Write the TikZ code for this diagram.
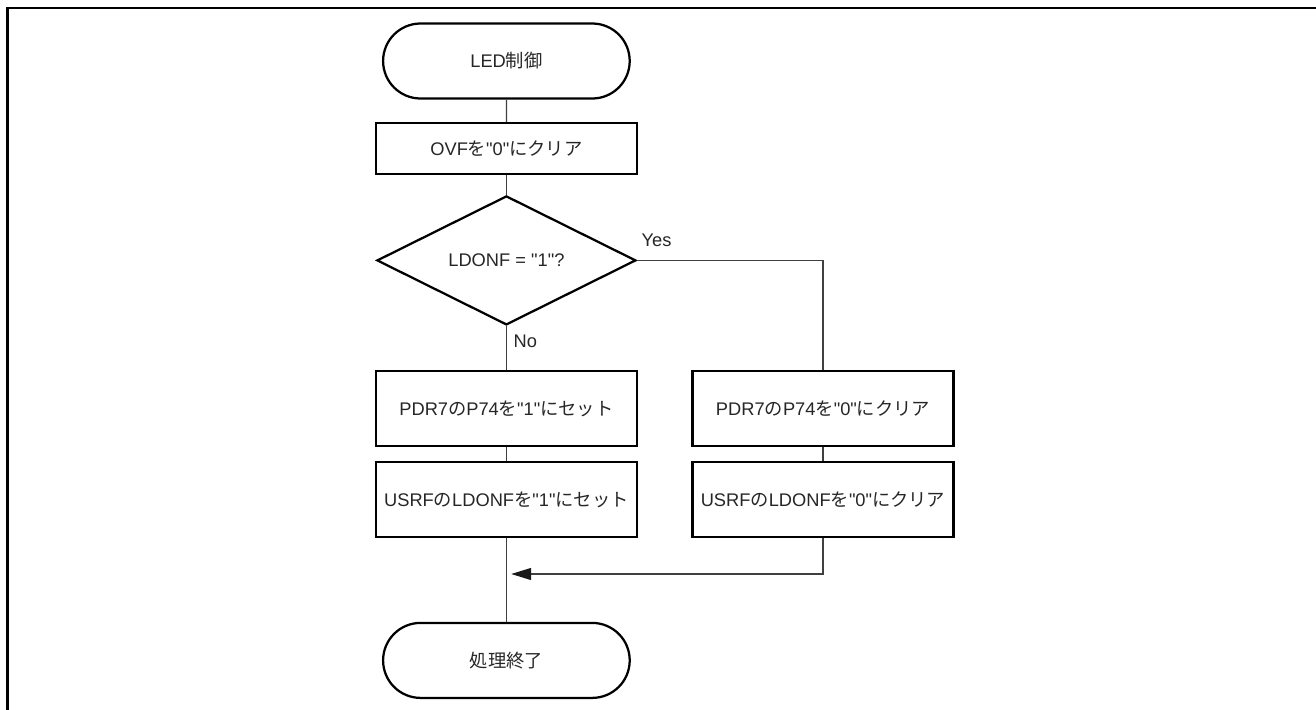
\documentclass[tikz,border=0pt]{standalone}
\usepackage{fontspec}
\newfontfamily\latinfont{Liberation Sans}
\newfontfamily\jpfont{Noto Sans CJK JP}
\usepackage{tikz}
\usetikzlibrary{shapes.geometric, shapes.misc, arrows.meta, positioning}

\newcommand{\ja}[1]{{\jpfont #1}}

\begin{document}
\begin{tikzpicture}[
  every node/.style={font=\latinfont\fontsize{13}{15}\selectfont, text=black!85},
  terminal/.style={draw, rounded rectangle, line width=1.6pt,
                   minimum width=6.4cm, minimum height=1.875cm},
  process/.style={draw, rectangle, line width=1.6pt,
                  minimum width=6.525cm, minimum height=1.875cm},
  decision/.style={draw, diamond, line width=1.6pt, inner sep=0pt,
                   minimum width=6.475cm, minimum height=3.125cm},
  line/.style={draw=black!75, line width=0.9pt},
  arrow/.style={line, -{Triangle[length=0.5cm, width=0.3cm, fill=black!90, color=black!90]}},
  lbl/.style={font=\latinfont\fontsize{13}{15}\selectfont}
]

\useasboundingbox (0,0) rectangle (32.9,-17.75);
\draw[line width=2.1pt] (32.9,-0.2) -- (0.19,-0.2) -- (0.19,-17.75);

\node[terminal] (start) at (12.66,-1.525) {LED\ja{制御}};
\node[process, minimum height=1.275cm] (ovf) at (12.66,-3.71) {OVF\ja{を}"0"\ja{にクリア}};
\node[decision] (dec) at (12.66,-6.51) {LDONF = "1"?};

\node[process] (pdron)  at (12.66,-10.21) {PDR7\ja{の}P74\ja{を}"1"\ja{にセット}};
\node[process] (usrfon) at (12.66,-12.49) {USRF\ja{の}LDONF\ja{を}"1"\ja{にセット}};

\node[process] (pdroff)  at (20.575,-10.21) {PDR7\ja{の}P74\ja{を}"0"\ja{にクリア}};
\node[process] (usrfoff) at (20.575,-12.49) {USRF\ja{の}LDONF\ja{を}"0"\ja{にクリア}};

\coordinate (merge) at (12.66,-14.35);
\node[terminal] (stop) at (12.66,-16.51) {\ja{処理終了}};

\draw[line] (start) -- (ovf);
\draw[line] (ovf) -- (dec);
\draw[line] (dec.south) -- node[lbl, right=0.05cm, pos=0.35]{No} (pdron.north);
\draw[line] (dec.east) -| node[lbl, pos=0, anchor=south west, inner sep=0.1cm, yshift=0.22cm]{Yes} (pdroff.north);

\draw[line] (pdron) -- (usrfon);
\draw[line] (pdroff) -- (usrfoff);

\draw[line] (usrfon.south) -- (stop.north);
\draw[arrow] (usrfoff.south) |- ([xshift=0.12cm]merge);

\end{tikzpicture}
\end{document}
